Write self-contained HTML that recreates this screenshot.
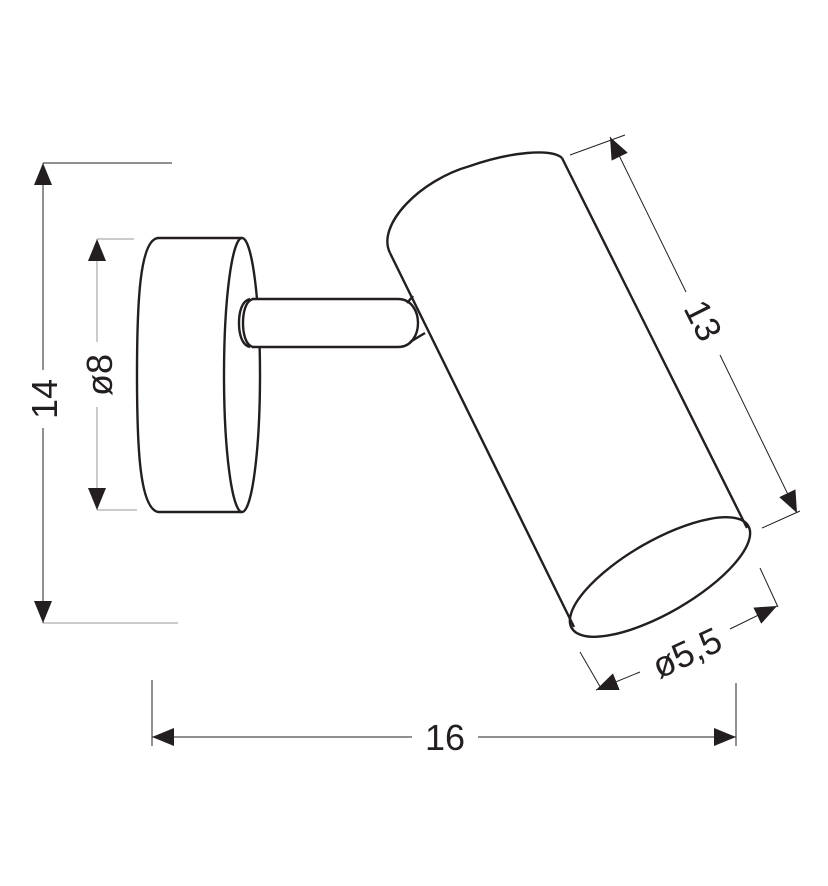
<!DOCTYPE html>
<html><head><meta charset="utf-8"><style>
html,body{margin:0;padding:0;background:#fff;}
svg{display:block;}
text{font-family:"Liberation Sans",Arial,sans-serif;fill:#231f20;}
</style></head><body>
<svg width="828" height="886" viewBox="0 0 828 886" xmlns="http://www.w3.org/2000/svg">
<defs>
<marker id="a" viewBox="0 0 22 18" refX="22" refY="9" markerWidth="22" markerHeight="18" markerUnits="userSpaceOnUse" orient="auto">
<path d="M0,0 L22,9 L0,18 Z" fill="#231f20"/></marker>
</defs>
<g stroke="#231f20" stroke-width="1" fill="none">
<line x1="43" y1="163" x2="172" y2="163"/>
<line x1="43" y1="623" x2="178" y2="623" stroke="#999"/>
<line x1="43" y1="370" x2="43" y2="163" marker-end="url(#a)"/>
<line x1="43" y1="428" x2="43" y2="623" marker-end="url(#a)"/>
<g stroke="#999">
<line x1="97" y1="239" x2="134" y2="239"/>
<line x1="97" y1="510" x2="137" y2="510"/>
<line x1="97" y1="342" x2="97" y2="239" marker-end="url(#a)"/>
<line x1="97" y1="407" x2="97" y2="510" marker-end="url(#a)"/>
</g>
<line x1="152" y1="680" x2="152" y2="746"/>
<line x1="736" y1="683" x2="736" y2="746"/>
<line x1="412" y1="737" x2="152" y2="737" marker-end="url(#a)"/>
<line x1="478" y1="737" x2="736" y2="737" marker-end="url(#a)"/>
<line x1="570" y1="155" x2="625" y2="135"/>
<line x1="762" y1="528" x2="800" y2="511"/>
<line x1="686" y1="292" x2="610" y2="137" marker-end="url(#a)"/>
<line x1="720" y1="355" x2="797" y2="513" marker-end="url(#a)"/>
<line x1="580" y1="652" x2="602" y2="690"/>
<line x1="760" y1="568" x2="778" y2="607"/>
<line x1="640" y1="672" x2="596" y2="690" marker-end="url(#a)"/>
<line x1="730" y1="629" x2="777" y2="606" marker-end="url(#a)"/>
</g>
<g stroke="#231f20" stroke-width="2.4" fill="none" stroke-linejoin="round">
<path d="M242,238 L158,238 C140,240 137,300 137,375 C137,450 140,508 158,512 L242,512"/>
<ellipse cx="242" cy="375" rx="18" ry="137" fill="#fff"/>
<path d="M252,299 L398,299 C412,299 418,312 418,323 C418,334 412,347 398,347 L252,347" fill="#fff"/>
<path d="M250,299 C241,301 239,314 239,323 C239,332 241,345 250,347" />
<path d="M253,299 C245,301 243,314 243,323 C243,332 245,345 253,347" />
<line x1="407" y1="303" x2="413" y2="296"/>
<line x1="410" y1="342" x2="425" y2="333"/>
<path d="M562,158 L747,528 M390,253 L574,627"/>
<path d="M390,253 C376,225 420,180 470,166 C510,152 552,148 562,158"/>
<ellipse cx="660" cy="577" rx="102" ry="36" transform="rotate(-30 660 577)"/>
</g>
<g font-size="36">
<text x="0" y="0" text-anchor="middle" transform="translate(57,399) rotate(-90)">14</text>
<text x="0" y="0" text-anchor="middle" transform="translate(112,375) rotate(-90)">ø8</text>
<text x="445" y="750" text-anchor="middle">16</text>
<text x="0" y="0" text-anchor="middle" transform="translate(692,326) rotate(63.4)">13</text>
<text x="0" y="0" text-anchor="middle" transform="translate(692,664) rotate(-25)">ø5,5</text>
</g>
</svg>
</body></html>
